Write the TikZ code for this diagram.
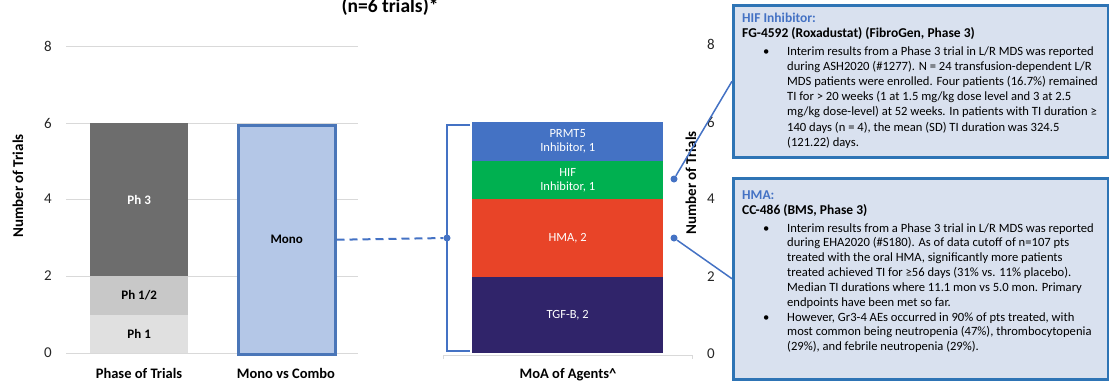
\documentclass[tikz,border=0pt]{standalone}
\usepackage{fontspec}
\setmainfont{Carlito}
\definecolor{phthree}{HTML}{6D6D6D}
\definecolor{phtwelve}{HTML}{C8C8C8}
\definecolor{phone}{HTML}{E0E0E0}
\definecolor{monofill}{HTML}{B4C7E7}
\definecolor{monoline}{HTML}{4A76B8}
\definecolor{prmtc}{HTML}{4472C4}
\definecolor{hifc}{HTML}{00B050}
\definecolor{hmac}{HTML}{E84428}
\definecolor{tgfc}{HTML}{30246A}
\definecolor{gridc}{HTML}{D9D9D9}
\definecolor{boxfill}{HTML}{D9E1EF}
\definecolor{boxline}{HTML}{2E74B5}
\definecolor{hdrc}{HTML}{4472C4}
\definecolor{linkc}{HTML}{4472C4}
\definecolor{tickc}{HTML}{262626}
\tikzset{
  barseg/.style={draw=none, inner sep=0pt, anchor=north west, align=center},
  ticklab/.style={font=\fontsize{15}{15}\selectfont, text=tickc, inner sep=0pt},
  axtitle/.style={font=\fontsize{15}{15}\bfseries\selectfont, inner sep=0pt},
  seglab/.style={font=\fontsize{12.5}{14}\selectfont, text=white},
  gridline/.style={draw=gridc, line width=1pt},
  linkline/.style={draw=linkc, line width=1.5pt},
  linkdot/.style={circle, fill=linkc, inner sep=0pt, minimum size=7pt},
  calloutbox/.style={draw=boxline, fill=boxfill, line width=2.5pt, inner sep=0pt, anchor=north west},
  bodyline/.style={font=\fontsize{12.6}{15}\selectfont, anchor=base west, inner sep=0pt},
  headline/.style={bodyline, font=\fontsize{13.5}{15}\bfseries\selectfont},
}
\begin{document}
\begin{tikzpicture}[x=1pt, y=-1pt]
\useasboundingbox (0,0) rectangle (1109,383);

% title (second line of a heading)
\node[font=\fontsize{19.5}{19.5}\bfseries\selectfont, anchor=base, inner sep=0pt] (title) at (390,12.5) {(n=6 trials)*};

% left chart: gridlines and value axis
\foreach \v/\yy in {0/353,2/276,4/199,6/123,8/46} {
  \draw[gridline] (66,\yy) -- (358,\yy);
  \node[ticklab] (lt\v) at (48,\yy) {\v};
}
\node[axtitle, rotate=90] (lyt) at (18,186) {Number of Trials};

% phase of trials stack
\node[barseg, fill=phone, minimum width=98pt, minimum height=38pt, font=\fontsize{13}{13}\bfseries\selectfont] (ph1) at (90,315) {Ph 1};
\node[barseg, fill=phtwelve, minimum width=98pt, minimum height=39pt, font=\fontsize{13}{13}\bfseries\selectfont] (ph12) at (90,276) {Ph 1/2};
\node[barseg, fill=phthree, minimum width=98pt, minimum height=153pt, text=white, font=\fontsize{13}{13}\bfseries\selectfont] (ph3) at (90,123) {Ph 3};

% mono vs combo bar
\node[barseg, fill=monofill, draw=monoline, line width=2.5pt, minimum width=97pt, minimum height=229pt, font=\fontsize{13}{13}\bfseries\selectfont] (mono) at (237,124) {Mono};

\node[axtitle, font=\fontsize{14.5}{14.5}\bfseries\selectfont, anchor=base] (cat1) at (139,378) {Phase of Trials};
\node[axtitle, font=\fontsize{14.5}{14.5}\bfseries\selectfont, anchor=base] (cat2) at (286,378) {Mono vs Combo};

% MoA stack
\node[barseg, fill=tgfc, minimum width=191pt, minimum height=76pt, seglab] (tgf) at (472,277) {TGF-B, 2};
\node[barseg, fill=hmac, minimum width=191pt, minimum height=78pt, seglab] (hma) at (472,199) {HMA, 2};
\node[barseg, fill=hifc, minimum width=191pt, minimum height=38pt, seglab] (hif) at (472,161) {HIF\\Inhibitor, 1};
\node[barseg, fill=prmtc, minimum width=191pt, minimum height=39pt, seglab] (prmt) at (472,122) {PRMT5\\Inhibitor, 1};

% category axis under the MoA stack
\draw[draw=gridc, line width=1pt] (443,359) -- (443,355) -- (692,355) -- (692,359);
\node[axtitle, font=\fontsize{14.5}{14.5}\bfseries\selectfont, anchor=base] (cat3) at (568,378) {MoA of Agents\textasciicircum};

% right value axis
\foreach \v/\yy in {0/354,2/277,4/199,6/122,8/44} {
  \node[ticklab] (rt\v) at (711,\yy) {\v};
}
\node[axtitle, rotate=90] (ryt) at (691,183) {Number of Trials};

% bracket grouping the MoA stack
\draw[linkline] (470,125) -| (447,351) -- (470,351);
\node[linkdot] (bdot) at (447,238) {};
\draw[draw=linkc, line width=2pt, dash pattern=on 8pt off 5pt] (mono.east) -- (bdot);

% callout boxes
\node[calloutbox, minimum width=375pt, minimum height=152pt] (box1) at (732,4) {};
\node[calloutbox, minimum width=375pt, minimum height=201pt] (box2) at (732,177) {};

\node[linkdot] (hifdot) at (674,179) {};
\node[linkdot] (hmadot) at (674,238) {};
\draw[linkline] (hifdot) -- (box1.west);
\draw[linkline] (hmadot) -- (box2.west);

% HIF callout text
\node[headline, text=hdrc] (h1a) at (742,22) {HIF Inhibitor:};
\node[headline] (h1b) at (742,37) {FG-4592 (Roxadustat) (FibroGen, Phase 3)};
\node[bodyline] (h1bul) at (763,55) {•};
\foreach \t [count=\i from 0] in {
  {Interim results from a Phase 3 trial in L/R MDS was reported},
  {during ASH2020 (\#1277). N = 24 transfusion-dependent L/R},
  {MDS patients were enrolled. Four patients (16.7\%) remained},
  {TI for > 20 weeks (1 at 1.5 mg/kg dose level and 3 at 2.5},
  {mg/kg dose-level) at 52 weeks. In patients with TI duration ≥},
  {140 days (n = 4), the mean (SD) TI duration was 324.5},
  {(121.22) days.}} {
  \node[bodyline] (h1l\i) at (787,55+15.2*\i) {\t};
}

% HMA callout text
\node[headline, text=hdrc] (h2a) at (742,199) {HMA:};
\node[headline] (h2b) at (742,214) {CC-486 (BMS, Phase 3)};
\node[bodyline] (h2bul) at (763,232) {•};
\foreach \t [count=\i from 0] in {
  {Interim results from a Phase 3 trial in L/R MDS was reported},
  {during EHA2020 (\#S180). As of data cutoff of n=107 pts},
  {treated with the oral HMA, significantly more patients},
  {treated achieved TI for ≥56 days (31\% vs. 11\% placebo).},
  {Median TI durations where 11.1 mon vs 5.0 mon. Primary},
  {endpoints have been met so far.}} {
  \node[bodyline] (h2l\i) at (787,232+14.9*\i) {\t};
}
\node[bodyline] (h2bulb) at (763,321) {•};
\foreach \t [count=\i from 0] in {
  {However, Gr3-4 AEs occurred in 90\% of pts treated, with},
  {most common being neutropenia (47\%), thrombocytopenia},
  {(29\%), and febrile neutropenia (29\%).}} {
  \node[bodyline] (h2m\i) at (787,321+14.9*\i) {\t};
}
\end{tikzpicture}
\end{document}
